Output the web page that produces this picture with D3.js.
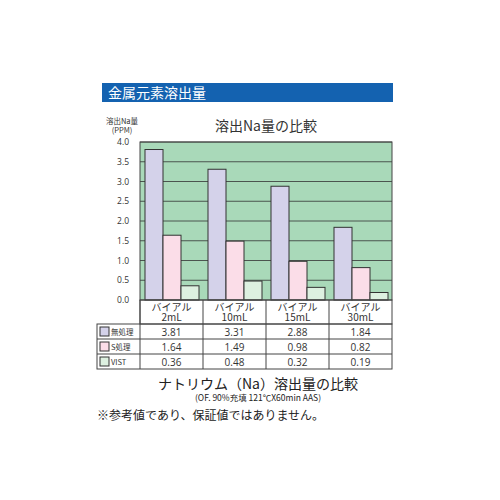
<!DOCTYPE html>
<html>
<head>
<meta charset="utf-8">
<script src="https://cdn.jsdelivr.net/npm/d3@7"></script>
<style>
  body { margin: 0; background: #fff; font-family: "Noto Sans CJK JP", "Noto Sans", sans-serif; }
</style>
</head>
<body>
<div id="chart"></div>
<script>
const categories = ["バイアル\n2mL", "バイアル\n10mL", "バイアル\n15mL", "バイアル\n30mL"];
const seriesNames = ["無処理", "S処理", "VIST"];
const seriesColors = ["#d4d2ea", "#fbdde8", "#ddf0e0"];
const untreated = [3.81, 3.31, 2.88, 1.84];
const sTreated = [1.64, 1.49, 0.98, 0.82];
const vist = [0.36, 0.48, 0.32, 0.19];
const yTicks = [0, 0.5, 1, 1.5, 2, 2.5, 3, 3.5, 4];
const series = [untreated, sTreated, vist];

(function () {
const svg = d3.select("#chart").append("svg").attr("width", 500).attr("height", 500);
const font = "Noto Sans CJK JP";

// header bar
svg.append("rect").attr("x", 102).attr("y", 83).attr("width", 291).attr("height", 19)
  .attr("fill", "#1462b0");
svg.append("text").attr("x", 108).attr("y", 98).attr("fill", "#fff")
  .attr("font-size", 14).attr("font-family", font).text("金属元素溶出量");

const pLeft = 140, pRight = 392, pTop = 142, pBottom = 300;
const x = d3.scaleBand().domain(categories).range([pLeft, pRight]);
const y = d3.scaleLinear().domain([0, 4]).range([pBottom, pTop]);
const xi = d3.scaleBand().domain([0, 1, 2]).range([5, 59]).padding(0);

svg.append("text").attr("x", 266).attr("y", 131).attr("text-anchor", "middle")
  .attr("font-size", 14).attr("font-family", font).attr("fill", "#333").text("溶出Na量の比較");
svg.append("text").attr("x", 122).attr("y", 124).attr("text-anchor", "middle")
  .attr("font-size", 7.5).attr("font-family", font).attr("fill", "#333").text("溶出Na量");
svg.append("text").attr("x", 122).attr("y", 133).attr("text-anchor", "middle")
  .attr("font-size", 7.5).attr("font-family", font).attr("fill", "#333").text("(PPM)");

svg.append("rect").attr("x", pLeft).attr("y", pTop).attr("width", pRight - pLeft)
  .attr("height", pBottom - pTop).attr("fill", "#a9d9b9");
svg.append("g").selectAll("line").data(yTicks.slice(1)).join("line")
  .attr("x1", pLeft).attr("x2", pRight).attr("y1", d => y(d)).attr("y2", d => y(d))
  .attr("stroke", "#333").attr("stroke-width", 0.8);

const yAxis = svg.append("g").attr("transform", `translate(${pLeft - 8},0)`)
  .call(d3.axisLeft(y).tickValues(yTicks).tickFormat(d3.format(".1f")).tickSize(0));
yAxis.select(".domain").remove();
yAxis.selectAll("text").attr("font-size", 8.5).attr("font-family", "Open Sans").attr("fill", "#333");

series.forEach((vals, s) => {
  svg.append("g").selectAll("rect").data(vals).join("rect")
    .attr("x", (d, i) => x(categories[i]) + xi(s))
    .attr("y", d => y(d)).attr("width", xi.bandwidth()).attr("height", d => pBottom - y(d))
    .attr("fill", seriesColors[s]).attr("stroke", "#333").attr("stroke-width", 1);
});
svg.append("rect").attr("x", pLeft).attr("y", pTop).attr("width", pRight - pLeft)
  .attr("height", pBottom - pTop).attr("fill", "none").attr("stroke", "#444");

// table
const rowY = [300, 324, 339, 354, 369];
svg.append("rect").attr("x", pLeft).attr("y", 300).attr("width", pRight - pLeft).attr("height", 24)
  .attr("fill", "none").attr("stroke", "#444");
svg.append("rect").attr("x", 97).attr("y", 324).attr("width", pRight - 97).attr("height", 45)
  .attr("fill", "none").attr("stroke", "#444");
[339, 354].forEach(v => svg.append("line").attr("x1", 97).attr("x2", pRight)
  .attr("y1", v).attr("y2", v).attr("stroke", "#444"));
categories.forEach(c => svg.append("line").attr("x1", x(c)).attr("x2", x(c))
  .attr("y1", 300).attr("y2", 369).attr("stroke", "#444"));

categories.forEach(c => {
  c.split("\n").forEach((t, k) => svg.append("text")
    .attr("x", x(c) + x.bandwidth() / 2).attr("y", 311 + k * 10).attr("text-anchor", "middle")
    .attr("font-size", 10).attr("font-family", font).attr("fill", "#333").text(t));
});
series.forEach((vals, s) => {
  const cy = rowY[s + 1] + 7.5;
  svg.append("rect").attr("x", 100).attr("y", cy - 4.5).attr("width", 9).attr("height", 9)
    .attr("fill", seriesColors[s]).attr("stroke", "#333");
  svg.append("text").attr("x", 111).attr("y", cy + 3).attr("font-size", 7.5)
    .attr("font-family", font).attr("fill", "#333").text(seriesNames[s]);
  vals.forEach((v, i) => svg.append("text")
    .attr("x", x(categories[i]) + x.bandwidth() / 2).attr("y", cy + 4).attr("text-anchor", "middle")
    .attr("font-size", 10).attr("font-family", "Open Sans").attr("fill", "#333").text(d3.format(".2f")(v)));
});

svg.append("text").attr("x", 258).attr("y", 389).attr("text-anchor", "middle")
  .attr("font-size", 14).attr("font-family", font).attr("fill", "#222").text("ナトリウム（Na）溶出量の比較");
svg.append("text").attr("x", 258).attr("y", 401).attr("text-anchor", "middle")
  .attr("font-size", 8.5).attr("font-family", font).attr("fill", "#222").text("(OF. 90%充填 121℃X60min AAS)");
svg.append("text").attr("x", 97).attr("y", 420)
  .attr("font-size", 12).attr("font-family", font).attr("fill", "#222").text("※参考値であり、保証値ではありません。");
})();
</script>
</body>
</html>
